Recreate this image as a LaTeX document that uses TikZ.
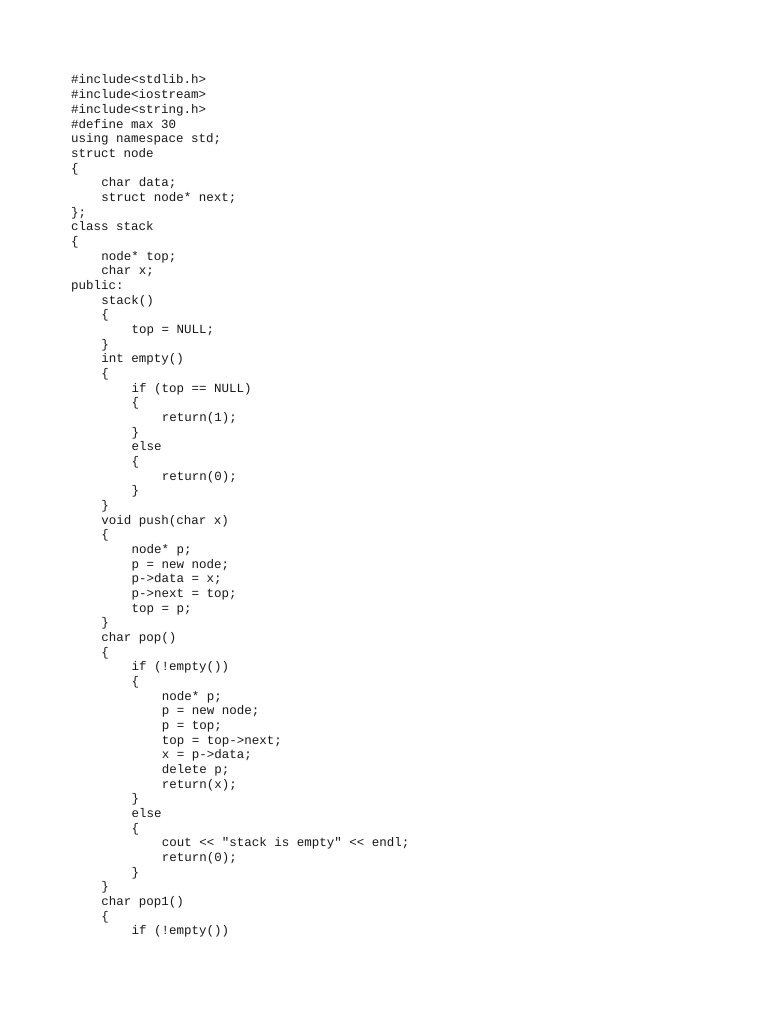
\documentclass[tikz,border=0pt]{standalone}
\usepackage{fontspec}
\setmonofont{Liberation Mono}
\tikzset{cl/.style={anchor=base west,inner sep=0pt,text=black!90,font=\ttfamily\fontsize{12.5}{14.67}\selectfont}}
\newcommand\codeln[3]{\node[cl] (l#1) at ({71pt+30.2pt*#2},{-84pt-14.67pt*(#1-1)}) {#3};}
\begin{document}
\begin{tikzpicture}
\fill[white] (0,0) rectangle (768pt,-1024pt);
\useasboundingbox (0,0) rectangle (768pt,-1024pt);
\codeln{1}{0}{\#include<stdlib.h>}
\codeln{2}{0}{\#include<iostream>}
\codeln{3}{0}{\#include<string.h>}
\codeln{4}{0}{\#define max 30}
\codeln{5}{0}{using namespace std;}
\codeln{6}{0}{struct node}
\codeln{7}{0}{\{}
\codeln{8}{1}{char data;}
\codeln{9}{1}{struct node* next;}
\codeln{10}{0}{\};}
\codeln{11}{0}{class stack}
\codeln{12}{0}{\{}
\codeln{13}{1}{node* top;}
\codeln{14}{1}{char x;}
\codeln{15}{0}{public:}
\codeln{16}{1}{stack()}
\codeln{17}{1}{\{}
\codeln{18}{2}{top = NULL;}
\codeln{19}{1}{\}}
\codeln{20}{1}{int empty()}
\codeln{21}{1}{\{}
\codeln{22}{2}{if (top == NULL)}
\codeln{23}{2}{\{}
\codeln{24}{3}{return(1);}
\codeln{25}{2}{\}}
\codeln{26}{2}{else}
\codeln{27}{2}{\{}
\codeln{28}{3}{return(0);}
\codeln{29}{2}{\}}
\codeln{30}{1}{\}}
\codeln{31}{1}{void push(char x)}
\codeln{32}{1}{\{}
\codeln{33}{2}{node* p;}
\codeln{34}{2}{p = new node;}
\codeln{35}{2}{p->data = x;}
\codeln{36}{2}{p->next = top;}
\codeln{37}{2}{top = p;}
\codeln{38}{1}{\}}
\codeln{39}{1}{char pop()}
\codeln{40}{1}{\{}
\codeln{41}{2}{if (!empty())}
\codeln{42}{2}{\{}
\codeln{43}{3}{node* p;}
\codeln{44}{3}{p = new node;}
\codeln{45}{3}{p = top;}
\codeln{46}{3}{top = top->next;}
\codeln{47}{3}{x = p->data;}
\codeln{48}{3}{delete p;}
\codeln{49}{3}{return(x);}
\codeln{50}{2}{\}}
\codeln{51}{2}{else}
\codeln{52}{2}{\{}
\codeln{53}{3}{cout << "stack is empty" << endl;}
\codeln{54}{3}{return(0);}
\codeln{55}{2}{\}}
\codeln{56}{1}{\}}
\codeln{57}{1}{char pop1()}
\codeln{58}{1}{\{}
\codeln{59}{2}{if (!empty())}
\end{tikzpicture}
\end{document}
